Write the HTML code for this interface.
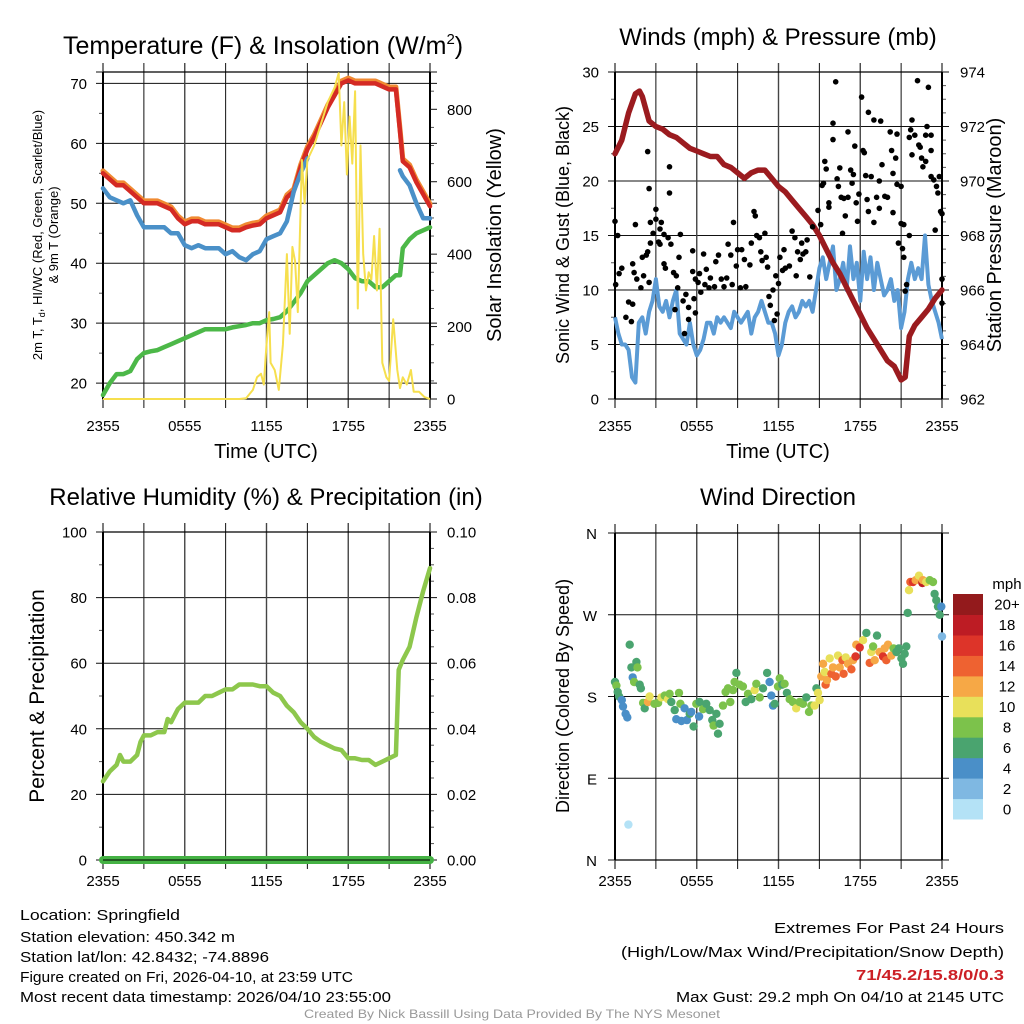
<!DOCTYPE html>
<html><head><meta charset="utf-8">
<style>
html,body{margin:0;padding:0;background:#fff;}
svg{display:block;font-family:"Liberation Sans",sans-serif;}
</style></head>
<body>
<svg id="root" xmlns="http://www.w3.org/2000/svg" width="1024" height="1024" viewBox="0 0 1024 1024">
<rect x="0" y="0" width="1024" height="1024" fill="#fff"/>
</svg>
<script>
// ---------- DATA ----------
const xTickLabels = ["2355","0555","1155","1755","2355"];
const hourGrid = [0,3,6,9,12,15,18,21,24];

const tempTimes = [0,0.5,1,1.5,2,2.5,3,3.5,4,4.5,5,5.5,6,6.5,7,7.5,8,8.5,9,9.5,10,10.5,11,11.5,12,12.5,13,13.5,14,14.5,15,15.5,16,16.5,17,17.5,18,18.5,19,19.5,20,20.5,21,21.5,21.8,22,22.5,23,23.5,24];
const tempRed = [55,54,53,53,52,51,50,50,50,49.5,49,47.5,46.5,47,47,46.5,46.5,46.5,46,45.5,45.5,46,46.3,46.5,47.5,48,48.5,51,52,56,59,61,63.5,66,68,70,70.5,70,70,70,70,69.5,69,69,62,57,56,53.5,51.5,49.5];
const tempBlue = [52.5,51,50.5,50,50.5,48,46,46,46,46,45,45,43,42.5,43,42.5,42.5,42.5,41.5,42,41,40.5,41.5,42,44,44.5,45,47,52,55,57.5,null,null,null,null,null,null,null,null,null,null,null,null,null,55.5,54.5,53,50,47.5,47.5];
const dewGreen = [18,20,21.5,21.5,22,24,25,25.3,25.5,26,26.5,27,27.5,28,28.5,29,29,29,29,29.3,29.5,29.7,30,30,30.5,30.7,31,32,33.5,35,37,38,39,40,40.5,40,39,37.5,37,37,36,36,37,38,38,42.5,44,45,45.5,46];
const tempTicks = [20,30,40,50,60,70];
const solarTicks = [0,200,400,600,800];
const solarTimes = [0,10,10.5,11,11.3,11.6,11.8,12,12.2,12.3,12.6,12.9,13.2,13.5,13.7,13.9,14.1,14.3,14.6,14.8,15,15.5,16,16.5,17,17.3,17.5,17.7,17.9,18.1,18.3,18.5,18.7,18.9,19.1,19.3,19.5,19.7,19.9,20.1,20.3,20.5,20.8,21,21.3,21.6,21.8,22,22.3,22.6,22.8,23.2,23.6,24];
const solarVals = [0,0,2,25,60,70,40,150,240,100,80,25,150,400,180,420,380,240,660,540,660,700,760,820,860,900,700,820,620,780,650,850,250,700,400,300,350,330,450,300,470,100,60,50,220,80,30,60,40,80,20,20,5,0];

const windTimes = [0,0.25,0.5,0.75,1,1.25,1.5,1.75,2,2.25,2.5,2.75,3,3.25,3.5,3.75,4,4.25,4.5,4.75,5,5.25,5.5,5.75,6,6.25,6.5,6.75,7,7.25,7.5,7.75,8,8.25,8.5,8.75,9,9.25,9.5,9.75,10,10.25,10.5,10.75,11,11.25,11.5,11.75,12,12.25,12.5,12.75,13,13.25,13.5,13.75,14,14.25,14.5,14.75,15,15.25,15.5,15.75,16,16.25,16.5,16.75,17,17.25,17.5,17.75,18,18.25,18.5,18.75,19,19.25,19.5,19.75,20,20.25,20.5,20.75,21,21.25,21.5,21.75,22,22.25,22.5,22.75,23,23.25,23.5,23.75,24];
const windVals = [7.5,6,5,5,4.5,2,1.5,7,7.5,6,8,9,11,8.5,8,9,7.5,9,10,6,5.5,5,7,5,4,4.5,5.5,7,7,6,7.5,7,7.5,7,6.5,8,7.5,7,7.5,8,6,7.5,8,9,8,7,7,6,4,5,7,8,8.5,7.5,8,9,8.5,9,8,10,12,13,11,12.5,14,10,11,12.5,10,14,11,12.5,9,13.5,11,13,10,12.5,11,9.5,10,11,9,10,6.5,8,11,12.5,11,12,11,15,10.5,9,8,7,5.5,4];
const pressTimes = [0,0.5,1,1.5,1.8,2,2.5,3,3.5,4,4.5,5,5.5,6,6.5,7,7.5,8,8.5,9,9.5,10,10.5,11,11.5,12,12.5,13,13.5,14,14.5,15,15.5,16,16.5,17,17.5,18,18.5,19,19.5,20,20.5,21,21.3,21.6,22,22.5,23,23.5,24];
const pressVals = [971,971.5,972.5,973.2,973.3,973.1,972.2,972,971.9,971.7,971.6,971.4,971.2,971.1,971,970.9,970.9,970.6,970.5,970.3,970.1,970.3,970.4,970.4,970.1,969.8,969.6,969.3,969.0,968.7,968.4,968.0,967.5,967.0,966.6,966.1,965.6,965.1,964.6,964.2,963.8,963.4,963.2,962.7,962.8,964.3,964.7,965.0,965.3,965.7,966];
// gust observations: [hour, mph]
const gustPoints = [[0,16.3],[0.05,10.5],[0.2,15],[0.3,11.5],[0.5,12],[0.8,7.5],[1,8.9],[1.2,7.1],[1.3,12.4],[1.5,16],[1.4,11.6],[1.3,8.7],[1.6,11],[1.9,10.2],[2,13],[2.3,13.2],[2.1,11.3],[2.4,13.5],[2.5,10.7],[2.4,22.7],[2.5,19.3],[2.6,14.3],[2.6,16.2],[2.8,15.2],[3,17.4],[3,16.5],[3.2,14.4],[3.3,14.2],[3.4,16.2],[3.3,15.6],[3.6,15.1],[3.7,12],[3.6,12.4],[4,21.3],[4,18.9],[3.9,14.8],[4.1,14.2],[4.3,11.6],[4.5,11.3],[4.6,10.2],[4.7,13],[4.8,15.1],[4.4,8.2],[5,9],[5.2,9.6],[5.4,8.4],[5.1,6],[5.4,7.3],[5.7,11.7],[5.7,13.6],[5.9,7.9],[5.8,9.2],[5.9,11],[6.1,10.7],[6.2,11.5],[6.3,9.8],[6.5,13.3],[6.6,10.5],[6.7,11.9],[6.9,10.2],[7,11.1],[7.3,10.3],[7.4,12.6],[7.6,13.2],[7.8,11],[8,10.3],[8.2,11.1],[8.3,14.2],[8.5,13.2],[8.6,10.5],[8.7,16.2],[8.9,12.2],[9,13.7],[9.2,10.2],[9.3,13.7],[9.5,12.8],[9.6,10.3],[9.9,12.3],[10,14.3],[10.2,17.2],[10.3,16.8],[10.4,15],[10.6,14.8],[10.7,13.5],[10.8,12.7],[11,15.2],[11.1,13],[11.3,9.4],[11.6,10],[11.4,8.6],[11.7,7.2],[11.2,12.1],[11.8,11.3],[11.9,7.8],[12,10.6],[12.1,13],[12.3,11.8],[12.4,13.7],[12.5,12],[12.8,12.2],[13,15.4],[13.2,14.8],[13.3,11.3],[13.4,13.5],[13.6,12.8],[13.8,13.3],[13.7,14.3],[14,13.5],[14.1,14.6],[14.3,11.2],[14.5,15.8],[14.9,17.3],[15.1,16],[15.3,19.8],[15.4,21.8],[15.5,21.1],[15.2,19.6],[15.7,18],[15.7,17.6],[16,25.3],[16,23.8],[16.2,29.1],[16.3,20.2],[16.4,19.5],[16.5,21.2],[16.6,18.5],[16.8,18.4],[16.9,16.8],[16.7,15.2],[17.1,24.5],[17.3,21],[17.1,18.5],[17.4,19.8],[17.7,18],[17.8,16.3],[17.6,23.2],[17.5,20.6],[17.9,18.8],[18.1,27.7],[18.2,22.8],[18.4,20.5],[18.5,18.3],[18.6,26.3],[18.6,17.2],[18.3,22.6],[19,25.6],[18.8,20.4],[19,16.2],[19.2,18.5],[19.4,20],[19.4,17.5],[19.5,25.5],[19.8,18.6],[19.6,21.5],[20,18.5],[20.2,24.5],[20.3,22.8],[20.4,20.7],[20.7,24.3],[20.6,22.1],[20.7,19.7],[20.4,17.1],[21,19.5],[21,16.1],[20.8,14.3],[21.1,13.8],[21.2,13],[21.4,10.5],[21.3,9.9],[21.6,15],[21.2,16],[21.6,24],[21.7,24.7],[21.8,25.6],[21.8,22.4],[22,24.2],[22.2,29.2],[22.3,23.3],[22.5,22.1],[22.4,23.1],[22.6,21.3],[22.8,24.2],[22.9,25],[23,28.6],[23.2,22.8],[23.2,20.4],[22.8,21.8],[23.4,20.1],[23.2,24.2],[23.6,19.5],[23.7,18.9],[23.5,15.5],[23.8,20.4],[23.9,17.2],[24,17],[24,11],[24,8.8]];
const windTicks = [0,5,10,15,20,25,30];
const pressTicks = [962,964,966,968,970,972,974];

const rhTimes = [0,0.5,1,1.25,1.5,2,2.5,2.75,3,3.5,4,4.5,4.75,5,5.5,6,6.5,7,7.5,8,8.5,9,9.5,10,10.5,11,11.5,12,12.5,13,13.5,14,14.5,15,15.5,16,16.5,17,17.5,18,18.5,19,19.5,20,20.5,21,21.5,21.7,22,22.5,23,23.5,24];
const rhVals = [24,27,29,32,30,30,32,36,38,38,39,39,43,42,46,48,48,48,50,50,51,52,52,53.5,53.5,53.5,53,53,51,50,47,45,42,40,37.5,36,35,34,33.5,31,31,30.5,30.5,29,30,31,32,58,61,65,74,82,89];
const precipTimes = [0,24];
const precipVals = [0,0];
const rhTicks = [0,20,40,60,80,100];
const precipTicks = ["0.00","0.02","0.04","0.06","0.08","0.10"];

// wind direction observations: [hour, degrees, mph]
const dirPoints = [[0,196,6],[0.1,192,8],[0.2,185,6],[0.3,180,6],[0.5,176,4],[0.59,169,4],[0.78,161,4],[0.9,157,4],[0.98,39,0],[1.08,237,6],[1.2,212,6],[1.3,201,4],[1.4,196,8],[1.57,218,6],[1.65,212,8],[1.81,193,6],[1.9,189,6],[2.06,173,8],[2.18,167,6],[2.42,174,12],[2.54,180,10],[2.9,172,8],[3.16,173,8],[3.4,179,10],[3.65,181,8],[3.89,177,10],[4.01,183,8],[4.13,174,6],[4.38,165,6],[4.5,155,4],[4.7,184,8],[4.8,172,8],[4.87,153,4],[5.11,167,4],[5.28,154,4],[5.48,161,6],[5.6,163,4],[5.77,147,6],[5.97,172,8],[6.17,158,4],[6.21,174,6],[6.46,166,8],[6.7,172,6],[6.95,165,6],[7.14,154,6],[7.24,148,8],[7.44,161,6],[7.56,139,6],[7.68,150,6],[7.93,170,8],[8.12,185,8],[8.29,189,8],[8.46,174,8],[8.66,187,8],[8.78,196,8],[8.91,206,6],[9.15,193,8],[9.39,191,8],[9.59,174,6],[9.76,183,8],[10.0,177,6],[10.25,187,10],[10.37,194,8],[10.62,179,8],[10.86,189,6],[11.16,206,6],[11.35,196,4],[11.47,181,4],[11.6,170,4],[11.72,172,6],[11.96,191,8],[12.09,200,8],[12.28,193,6],[12.45,194,8],[12.62,184,6],[12.82,177,8],[13.06,174,8],[13.3,167,10],[13.55,174,8],[13.8,172,8],[14.04,179,6],[14.24,163,8],[14.41,170,8],[14.65,170,10],[14.78,189,6],[14.9,184,10],[15.02,176,10],[15.14,202,12],[15.27,216,12],[15.39,207,10],[15.46,193,14],[15.56,198,12],[15.76,222,10],[15.88,205,14],[16.0,212,12],[16.2,202,14],[16.37,225,10],[16.49,212,12],[16.69,220,14],[16.78,205,14],[16.93,223,10],[17.1,216,12],[17.35,210,14],[17.47,220,12],[17.66,224,16],[17.71,237,12],[17.96,234,16],[18.2,242,10],[18.45,250,6],[18.69,217,14],[18.81,229,10],[18.94,235,8],[19.06,220,12],[19.23,247,6],[19.42,229,12],[19.67,224,16],[19.79,233,12],[19.91,220,14],[20.04,237,12],[20.28,225,12],[20.45,233,8],[20.65,229,6],[20.84,233,6],[21.02,222,6],[21.14,216,6],[21.26,227,6],[21.38,235,6],[21.48,272,6],[21.58,297,10],[21.68,306,14],[21.87,306,16],[22.07,308,12],[22.31,313,10],[22.56,305,18],[22.6,308,12],[22.85,306,10],[23.1,308,8],[23.34,306,8],[23.46,293,6],[23.58,286,6],[23.71,279,6],[23.83,270,6],[23.95,279,4],[24.0,246,2]];
const dirTicks = ["N","E","S","W","N"];
const speedColors = ["#b4e2f6","#7fb8e2","#4a8fc8","#4aa46f","#7cc24b","#e8e05a","#f6a846","#ee6231","#dd3429","#bd1c24","#931a1c"];
const speedLabels = ["0","2","4","6","8","10","12","14","16","18","20+"];

// ---------- HELPERS ----------
const NS = "http://www.w3.org/2000/svg";
const root = document.getElementById("root");
function mk(tag, attrs, parent){
  const e = document.createElementNS(NS, tag);
  for (const k in attrs) e.setAttribute(k, attrs[k]);
  (parent||root).appendChild(e);
  return e;
}
function txt(s, x, y, size, anchor, parent, extra){
  const t = mk("text", Object.assign({x:x, y:y, "font-size":size, "text-anchor":anchor||"start", fill:"#000"}, extra||{}), parent);
  t.textContent = s;
  return t;
}
function makeX(L, R){ return h => L + (R-L)*h/24; }
function makeY(T, B, vmin, vmax){ return v => B - (B-T)*(v-vmin)/(vmax-vmin); }
function linePath(times, vals, sx, sy){
  let d = "", pen = false;
  for (let i=0;i<times.length;i++){
    if (vals[i]===null || vals[i]===undefined){ pen=false; continue; }
    d += (pen?"L":"M") + sx(times[i]).toFixed(1) + "," + sy(vals[i]).toFixed(1);
    pen = true;
  }
  return d;
}
function frame(g, L, R, T, B, yTickYs, minorYsL, minorYsR){
  yTickYs.forEach(y=>{
    const l = mk("line",{x1:L-7,x2:R+7,y1:y,y2:y,stroke:"#111","stroke-width":1},g);
    
    
  });
  (minorYsL||[]).forEach(y=>{ mk("line",{x1:L-4,x2:L,y1:y,y2:y,stroke:"#555","stroke-width":1},g); });
  (minorYsR||[]).forEach(y=>{ mk("line",{x1:R,x2:R+4,y1:y,y2:y,stroke:"#555","stroke-width":1},g); });
  const sx = makeX(L,R);
  hourGrid.forEach(h=>{
    const x = sx(h);
    const l = mk("line",{x1:x,x2:x,y1:T-9,y2:B+9,stroke:(h%6===3)?"#111":"#444","stroke-width":(h%6===3)?1:1.4},g);
    
    
  });
  mk("line",{x1:L,x2:L,y1:T,y2:B,stroke:"#000","stroke-width":2},g);
  mk("line",{x1:R,x2:R,y1:T,y2:B,stroke:"#000","stroke-width":2},g);
  mk("line",{x1:L,x2:R,y1:T,y2:T,stroke:"#000","stroke-width":1.2},g);
  mk("line",{x1:L,x2:R,y1:B,y2:B,stroke:"#000","stroke-width":1.2},g);
  return sx;
}
function xLabels(g, sx, y){
  xTickLabels.forEach((s,i)=>{
    const t = txt(s, sx(i*6), y, 15, "middle", g);
    
    
  });
}
function group(name){
  const g = mk("g",{});
  
  
  return g;
}

// ---------- PANEL 1: Temperature ----------
(function(){
  const g = group("temperature-panel");
  const L=103,R=430,T=72,B=399;
  const sy = makeY(T,B,17.35,71.9);
  const ss = makeY(T,B,0,903);
  const sx = frame(g,L,R,T,B, tempTicks.map(sy).concat([T]), [25,35,45,55,65].map(sy), [100,300,500,700].map(ss).concat([50,150,250,350,450,550,650,750,850].map(ss)));
  solarTicks.forEach(v=>{ mk("line",{x1:R,x2:R+7,y1:ss(v),y2:ss(v),stroke:"#111"},g); });
  const o = mk("path",{d:linePath(tempTimes,tempRed.map(v=>v+0.4),sx,sy),fill:"none",stroke:"#f08a32","stroke-width":5,"stroke-linejoin":"round","stroke-linecap":"round"},g);
   
  const r = mk("path",{d:linePath(tempTimes,tempRed,sx,sy),fill:"none",stroke:"#d42a24","stroke-width":4.5,"stroke-linejoin":"round","stroke-linecap":"round"},g);
   
  const b = mk("path",{d:linePath(tempTimes,tempBlue,sx,sy),fill:"none",stroke:"#4a90c8","stroke-width":4.5,"stroke-linejoin":"round","stroke-linecap":"round"},g);
   
  const gr = mk("path",{d:linePath(tempTimes,dewGreen,sx,sy),fill:"none",stroke:"#4cb848","stroke-width":4.5,"stroke-linejoin":"round","stroke-linecap":"round"},g);
   
  const y = mk("path",{d:linePath(solarTimes,solarVals,sx,ss),fill:"none",stroke:"#f6df4e","stroke-width":2,"stroke-linejoin":"round"},g);
   
  tempTicks.forEach(v=>{ const t=txt(String(v),87,sy(v)+5.5,15,"end",g);   });
  solarTicks.forEach(v=>{ const t=txt(String(v),447,ss(v)+5.5,15,"start",g);   });
  xLabels(g,sx,431);
  const ti = txt("Temperature (F) & Insolation (W/m",63,54,25,"start",g);
  const sup = mk("tspan",{dy:-10,"font-size":15},ti); sup.textContent="2";
  const cl = mk("tspan",{dy:10},ti); cl.textContent=")";
   
  const xt = txt("Time (UTC)",266,458,20,"middle",g);  
  const yl = mk("text",{transform:"translate(42,235) rotate(-90)","font-size":13,"text-anchor":"middle",fill:"#000"},g);
  yl.innerHTML = '2m T, T<tspan font-size="9" dy="3">d</tspan><tspan dy="-3">, HI/WC (Red, Green, Scarlet/Blue)</tspan>';
   
  const yl2 = txt("& 9m T (Orange)",0,0,13,"middle",g,{transform:"translate(58,235) rotate(-90)"});
   
  const yr = txt("Solar Insolation (Yellow)",0,0,20,"middle",g,{transform:"translate(501,235) rotate(-90)"});
   
})();

// ---------- PANEL 2: Winds ----------
(function(){
  const g = group("winds-panel");
  const L=615,R=942,T=72,B=399;
  const sy = makeY(T,B,0,30);
  const sp = makeY(T,B,962,974);
  const sx = frame(g,L,R,T,B, windTicks.map(sy), [2.5,7.5,12.5,17.5,22.5,27.5].map(sy), [963,965,967,969,971,973].map(sp).concat([962.5,963.5,964.5,965.5,966.5,967.5,968.5,969.5,970.5,971.5,972.5,973.5].map(sp)));
  const w = mk("path",{d:linePath(windTimes,windVals,sx,sy),fill:"none",stroke:"#5b9bd5","stroke-width":4,"stroke-linejoin":"round"},g);
   
  const p = mk("path",{d:linePath(pressTimes,pressVals,sx,sp),fill:"none",stroke:"#9b1b1f","stroke-width":5.5,"stroke-linejoin":"round","stroke-linecap":"round"},g);
   
  gustPoints.forEach(pt=>{
    const c = mk("circle",{cx:sx(pt[0]).toFixed(1),cy:sy(pt[1]).toFixed(1),r:2.8,fill:"#000"},g);
    
    
  });
  windTicks.forEach(v=>{ const t=txt(String(v),599,sy(v)+5.5,15,"end",g);   });
  pressTicks.forEach(v=>{ const t=txt(String(v),960,sp(v)+5.5,15,"start",g);   });
  xLabels(g,sx,431);
  const ti = txt("Winds (mph) & Pressure (mb)",778,45,24,"middle",g);  
  const xt = txt("Time (UTC)",778,458,20,"middle",g);  
  const yl = txt("Sonic Wind & Gust (Blue, Black)",0,0,18,"middle",g,{transform:"translate(569,235) rotate(-90)"});  
  const yr = txt("Station Pressure (Maroon)",0,0,20,"middle",g,{transform:"translate(1001,235) rotate(-90)"});  
})();

// ---------- PANEL 3: RH ----------
(function(){
  const g = group("humidity-panel");
  const L=103,R=430,T=532,B=860;
  const sy = makeY(T,B,0,100);
  const sq = makeY(T,B,0,0.10);
  const sx = frame(g,L,R,T,B, rhTicks.map(sy), [10,30,50,70,90].map(sy), [5,10,15,25,30,35,45,50,55,65,70,75,85,90,95].map(sy));
  const r = mk("path",{d:linePath(rhTimes,rhVals,sx,sy),fill:"none",stroke:"#8dc74c","stroke-width":4.5,"stroke-linejoin":"round","stroke-linecap":"round"},g);
   
  const p = mk("path",{d:linePath(precipTimes,precipVals,sx,sq),fill:"none",stroke:"#45b244","stroke-width":8,"stroke-linecap":"round"},g);
   
  mk("line",{x1:L,x2:R,y1:B,y2:B,stroke:"#000","stroke-width":1},g);
  rhTicks.forEach(v=>{ const t=txt(String(v),87,sy(v)+5.5,15,"end",g);   });
  precipTicks.forEach((s,i)=>{ const t=txt(s,447,sq(i*0.02)+5.5,15,"start",g);   });
  xLabels(g,sx,886);
  const ti = txt("Relative Humidity (%) & Precipitation (in)",266,505,24,"middle",g);  
  const yl = txt("Percent & Precipitation",0,0,21,"middle",g,{transform:"translate(44,696) rotate(-90)"});  
})();

// ---------- PANEL 4: Wind Direction ----------
(function(){
  const g = group("wind-direction-panel");
  const L=615,R=942,T=533,B=860;
  const sy = makeY(T,B,0,360);
  const sx = frame(g,L,R,T,B, [0,90,180,270,360].map(sy));
  dirPoints.forEach(pt=>{
    const idx = Math.min(10, Math.round(pt[2]/2));
    const c = mk("circle",{cx:sx(pt[0]).toFixed(1),cy:sy(pt[1]).toFixed(1),r:4.2,fill:speedColors[idx]},g);
    
    
  });
  dirTicks.forEach((s,i)=>{ const t=txt(s,597,sy(i*90)+6,15,"end",g);   });
  xLabels(g,sx,886);
  const ti = txt("Wind Direction",778,505,24,"middle",g);  
  const yl = txt("Direction (Colored By Speed)",0,0,18,"middle",g,{transform:"translate(569,696) rotate(-90)"});  
  const cb = mk("g",{},g);
   
  const cT=594, cB=819, n=speedColors.length, hh=(cB-cT)/n;
  speedColors.forEach((c,i)=>{
    const yy = cB - (i+1)*hh;
    const rr = mk("rect",{x:953,y:yy.toFixed(1),width:30,height:(hh+0.5).toFixed(1),fill:c},cb);
     
    const t = txt(speedLabels[i],1007,yy+hh/2+5.5,15,"middle",cb);
     
  });
  const m = txt("mph",1007,589,15,"middle",cb);  
})();

// ---------- FOOTER TEXT ----------
(function(){
  const g = group("station-info");
  const left = [["Location: Springfield",920,160],["Station elevation: 450.342 m",942,215],["Station lat/lon: 42.8432; -74.8896",962,249],["Figure created on Fri, 2026-04-10, at 23:59 UTC",982,333],["Most recent data timestamp: 2026/04/10 23:55:00",1002,371]];
  left.forEach(a=>{ const t=txt(a[0],20,a[1],15,"start",g,{textLength:a[2],lengthAdjust:"spacingAndGlyphs"});   });
  const g2 = group("extremes-info");
  const right = [["Extremes For Past 24 Hours",933,230,"#000","normal"],["(High/Low/Max Wind/Precipitation/Snow Depth)",957,383,"#000","normal"],["71/45.2/15.8/0/0.3",980,148,"#cc2026","bold"],["Max Gust: 29.2 mph On 04/10 at 2145 UTC",1002,328,"#000","normal"]];
  right.forEach(a=>{ const t=txt(a[0],1004-a[2],a[1],15,"start",g2,{textLength:a[2],lengthAdjust:"spacingAndGlyphs",fill:a[3],"font-weight":a[4]});   });
  const f = txt("Created By Nick Bassill Using Data Provided By The NYS Mesonet",304,1018,12,"start",root,{textLength:416,lengthAdjust:"spacingAndGlyphs",fill:"#999"});
   
})();
</script>
</body></html>
